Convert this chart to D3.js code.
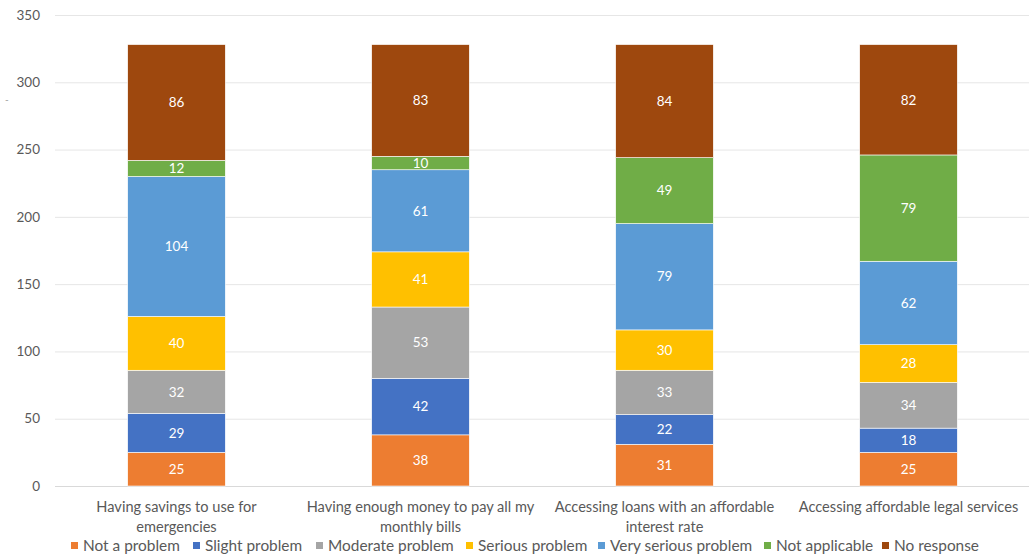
<!DOCTYPE html>
<html><head><meta charset="utf-8">
<script src="https://cdn.jsdelivr.net/npm/d3@7"></script>
<style>body{margin:0;background:#fff}svg{display:block;font-family:Lato,"Open Sans",sans-serif}</style>
</head><body><svg id="c" width="1029" height="560"></svg>
<script>
const categories = [
  ["Having savings to use for", "emergencies"],
  ["Having enough money to pay all my", "monthly bills"],
  ["Accessing loans with an affordable", "interest rate"],
  ["Accessing affordable legal services"]
];
const seriesNames = ["Not a problem","Slight problem","Moderate problem","Serious problem","Very serious problem","Not applicable","No response"];
const seriesColors = ["#ED7D31","#4472C4","#A5A5A5","#FFC000","#5B9BD5","#70AD47","#9E480E"];
const notAProblem = [25,38,31,25];
const slightProblem = [29,42,22,18];
const moderateProblem = [32,53,33,34];
const seriousProblem = [40,41,30,28];
const verySeriousProblem = [104,61,79,62];
const notApplicable = [12,10,49,79];
const noResponse = [86,83,84,82];
const yTicks = [0,50,100,150,200,250,300,350];

const values = [notAProblem,slightProblem,moderateProblem,seriousProblem,verySeriousProblem,notApplicable,noResponse];
const rows = categories.map((c,i)=>{const r={key:i}; seriesNames.forEach((s,j)=>r[s]=values[j][i]); return r;});
const stacked = d3.stack().keys(seriesNames)(rows);

const svg = d3.select("#c");
const x = d3.scaleBand().domain(d3.range(categories.length)).range([54.5,1030.5]).paddingInner(0.6).paddingOuter(0.3);
const y = d3.scaleLinear().domain([0,350]).range([486,15]);

svg.append("g").selectAll("line").data(yTicks).join("line")
  .attr("x1",55).attr("x2",1029).attr("y1",d=>y(d)+0.5).attr("y2",d=>y(d)+0.5)
  .attr("stroke",d=>d===0?"#d9d9d9":"#e6e6e6").attr("stroke-width",1);
svg.append("g").selectAll("text").data(yTicks).join("text")
  .attr("x",40).attr("y",d=>y(d)).attr("dy","0.35em").attr("text-anchor","end")
  .attr("font-size",13.5).attr("fill","#595959").text(d=>d);
svg.append("text").attr("x",5).attr("y",103).attr("font-size",10).attr("fill","#999").text("-");

const g = svg.append("g");
stacked.forEach((s,j)=>{
  const gg = g.append("g").attr("fill",seriesColors[j]);
  gg.selectAll("rect").data(s).join("rect")
    .attr("x",(d,i)=>x(i)).attr("width",x.bandwidth())
    .attr("y",d=>y(d[1])).attr("height",d=>y(d[0])-y(d[1]))
    .attr("stroke","#fff").attr("stroke-width",0.6);
  gg.selectAll("text").data(s).join("text")
    .attr("x",(d,i)=>x(i)+x.bandwidth()/2).attr("y",d=>(y(d[0])+y(d[1]))/2).attr("dy","0.35em")
    .attr("text-anchor","middle").attr("font-size",13.5).attr("fill","#fff")
    .text(d=>d[1]-d[0]);
});

const cl = svg.append("g");
categories.forEach((lines,i)=>{
  const t = cl.append("text").attr("text-anchor","middle").attr("font-size",14.6).attr("fill","#595959");
  lines.forEach((ln,k)=>t.append("tspan").attr("x",x(i)+x.bandwidth()/2).attr("y",512+k*20).text(ln));
});

const legX = [71,193,316,466,598,764,882];
const lg = svg.append("g");
seriesNames.forEach((s,j)=>{
  lg.append("rect").attr("x",legX[j]).attr("y",542).attr("width",7).attr("height",7).attr("fill",seriesColors[j]);
  lg.append("text").attr("x",legX[j]+12).attr("y",546).attr("dy","0.35em").attr("font-size",15.4).attr("fill","#595959").text(s);
});
</script></body></html>
